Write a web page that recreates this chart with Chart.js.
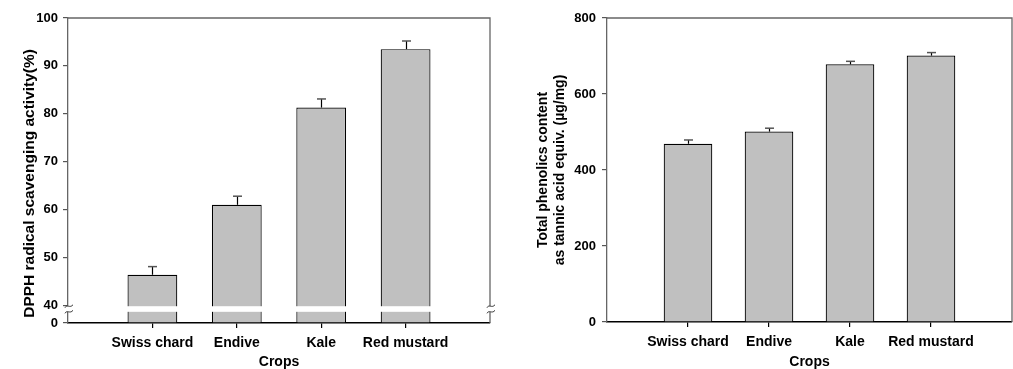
<!DOCTYPE html>
<html>
<head>
<meta charset="utf-8">
<script src="https://cdn.jsdelivr.net/npm/chart.js@4/dist/chart.umd.min.js"></script>
<style>
  html, body { margin: 0; padding: 0; background: #fff; }
  #wrap { position: relative; width: 1013px; height: 369px; overflow: hidden; }
  #c1 { position: absolute; left: 0; top: 0; }
  #c2 { position: absolute; left: 506px; top: 0; }
</style>
</head>
<body>
<div id="wrap">
  <canvas id="c1" width="506" height="369"></canvas>
  <canvas id="c2" width="507" height="369"></canvas>
</div>
<script>
// ---- data ----
const crops = ['Swiss chard', 'Endive', 'Kale', 'Red mustard'];
const dpph = [46.4, 61.0, 81.3, 93.5];
const dpphErr = [1.7, 1.8, 1.8, 1.7];
const phenolics = [469, 501, 678, 701];
const phenolicsErr = [10, 9, 8, 8];
const dpphTicks = [0, 40, 50, 60, 70, 80, 90, 100];
const phenolTicks = [0, 200, 400, 600, 800];

// axis break for left panel: 0..40 compressed
const BREAK_AT = 40;
const BREAK_SPAN = 3.67;
function mapDpph(v) { return v >= BREAK_AT ? v - BREAK_AT + BREAK_SPAN : v * BREAK_SPAN / BREAK_AT; }

// padded category labels: empty slots at both ends
const labels = [''].concat(crops, ['']);
const pad = arr => [null].concat(arr, [null]);

const FONT = "'Liberation Sans', Arial, sans-serif";
Chart.defaults.font.family = FONT;
Chart.defaults.color = '#000';

function errorBarPlugin(values, errs, mapper) {
  return {
    id: 'errbars',
    afterDatasetsDraw(chart) {
      const ctx = chart.ctx;
      const meta = chart.getDatasetMeta(0);
      const ys = chart.scales.y;
      ctx.save();
      values.forEach((v, i) => {
        const el = meta.data[i + 1];
        if (!el) return;
        const x = Math.round(el.x) + 0.5;
        const y0 = ys.getPixelForValue(mapper(v));
        const y1 = ys.getPixelForValue(mapper(v + errs[i]));
        ctx.strokeStyle = '#000';
        ctx.lineWidth = 1.2;
        ctx.beginPath(); ctx.moveTo(x, y0); ctx.lineTo(x, y1); ctx.stroke();
        ctx.strokeStyle = '#555';
        ctx.lineWidth = 1.5;
        ctx.beginPath(); ctx.moveTo(x - 4.5, y1); ctx.lineTo(x + 4.5, y1); ctx.stroke();
      });
      ctx.restore();
    }
  };
}

const boxPlugin = {
  id: 'box',
  beforeDatasetsDraw(chart) {
    const {ctx, chartArea: a} = chart;
    ctx.save();
    ctx.strokeStyle = '#666';
    ctx.lineWidth = 1.3;
    ctx.beginPath();
    ctx.moveTo(a.left, a.top); ctx.lineTo(a.right, a.top); ctx.lineTo(a.right, a.bottom);
    ctx.stroke();
    ctx.restore();
  }
};

function squiggle(ctx, x, y) {
  ctx.beginPath();
  ctx.moveTo(x - 3, y + 1.5);
  ctx.bezierCurveTo(x - 1, y - 2.5, x + 2, y + 2.5, x + 5, y - 1.5);
  ctx.stroke();
}

const breakPlugin = {
  id: 'brk',
  afterDatasetsDraw(chart) {
    const {ctx, chartArea: a} = chart;
    const ys = chart.scales.y;
    const yTop = ys.getPixelForValue(mapDpph(BREAK_AT)) + 0.8;
    const yBot = yTop + 5.6;
    ctx.save();
    ctx.fillStyle = '#fff';
    ctx.fillRect(a.left - 2, yTop, a.right - a.left + 6, yBot - yTop);
    ctx.strokeStyle = '#333';
    ctx.lineWidth = 1;
    [a.left, a.right].forEach(x => { squiggle(ctx, x, yTop); squiggle(ctx, x, yBot); });
    ctx.restore();
  }
};

function xScale(h) {
  return {
    type: 'category',
    offset: false,
    afterFit: s => { s.height = h; s.paddingLeft = 0; s.paddingRight = 0; },
    grid: {
      offset: false, drawOnChartArea: false, drawTicks: true, tickLength: 5,
      color: c => (c.index > 0 && c.index < labels.length - 1) ? '#000' : 'rgba(0,0,0,0)',
      lineWidth: 1.2
    },
    border: { color: '#000', width: 1.5 },
    ticks: { autoSkip: false, maxRotation: 0, padding: 7, font: { size: 14, weight: 'bold' }, color: '#000' },
    title: { display: true, text: 'Crops', font: { size: 14, weight: 'bold' }, color: '#000', padding: { top: 0, bottom: -2 } }
  };
}

// ---- left chart ----
new Chart(document.getElementById('c1'), {
  type: 'bar',
  data: {
    labels,
    datasets: [{
      data: pad(dpph.map(mapDpph)),
      backgroundColor: '#c0c0c0',
      borderColor: '#000',
      borderWidth: 1.2,
      barPercentage: 0.59,
      categoryPercentage: 1
    }]
  },
  options: {
    responsive: false,
    animation: false,
    devicePixelRatio: 1,
    layout: { padding: { left: 0, right: 16, top: 18, bottom: 0 } },
    plugins: { legend: { display: false }, tooltip: { enabled: false } },
    scales: {
      x: xScale(46),
      y: {
        type: 'linear',
        min: 0,
        max: mapDpph(100),
        afterBuildTicks: s => { s.ticks = dpphTicks.map(v => ({ value: mapDpph(v) })); },
        afterFit: s => { s.width = 68; },
        grid: { drawOnChartArea: false, drawTicks: true, tickLength: 5, color: '#555', lineWidth: 1.2 },
        border: { color: '#666', width: 1.3 },
        ticks: { padding: 5, font: { size: 13, weight: 'bold' }, color: '#000',
                 callback: (val, i) => dpphTicks[i] },
        title: { display: true, text: 'DPPH radical scavenging activity(%)\u00a0\u00a0\u00a0\u00a0\u00a0\u00a0',
                 font: { size: 15.5, weight: 'bold' },
                 color: '#000', padding: { top: 20, bottom: 0 } }
      }
    }
  },
  plugins: [boxPlugin, errorBarPlugin(dpph, dpphErr, mapDpph), breakPlugin]
});

// ---- right chart ----
new Chart(document.getElementById('c2'), {
  type: 'bar',
  data: {
    labels,
    datasets: [{
      data: pad(phenolics),
      backgroundColor: '#c0c0c0',
      borderColor: '#000',
      borderWidth: 1.2,
      barPercentage: 0.6,
      categoryPercentage: 1
    }]
  },
  options: {
    responsive: false,
    animation: false,
    devicePixelRatio: 1,
    layout: { padding: { left: 0, right: 1, top: 18, bottom: 0 } },
    plugins: { legend: { display: false }, tooltip: { enabled: false } },
    scales: {
      x: xScale(47),
      y: {
        type: 'linear',
        min: 0,
        max: 800,
        afterBuildTicks: s => { s.ticks = phenolTicks.map(v => ({ value: v })); },
        afterFit: s => { s.width = 101; },
        grid: { drawOnChartArea: false, drawTicks: true, tickLength: 5, color: '#555', lineWidth: 1.2 },
        border: { color: '#666', width: 1.3 },
        ticks: { padding: 6, font: { size: 13, weight: 'bold' }, color: '#000' },
        title: { display: true, text: ['Total phenolics content', 'as tannic acid equiv. (\u00b5g/mg)'],
                 font: { size: 14, weight: 'bold' }, color: '#000', padding: { top: 29, bottom: 0 } }
      }
    }
  },
  plugins: [boxPlugin, errorBarPlugin(phenolics, phenolicsErr, v => v)]
});
</script>
</body>
</html>
